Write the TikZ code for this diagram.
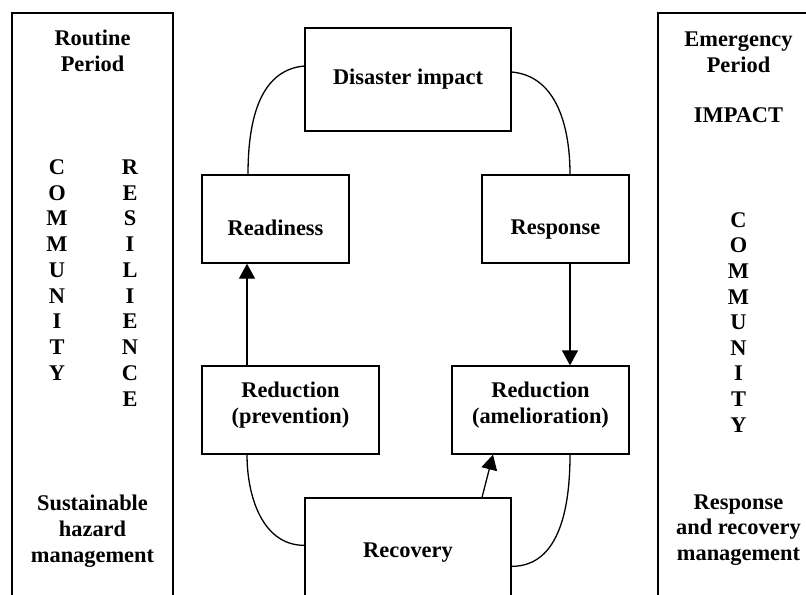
\documentclass[tikz,border=0pt]{standalone}
\usepackage{fontspec}
\setmainfont{Liberation Serif}
\usetikzlibrary{arrows.meta}

\tikzset{
  every node/.style={font=\fontsize{11.2}{12.9}\selectfont\bfseries},
  stage/.style={draw, line width=0.65pt, inner sep=0pt},
  flow/.style={line width=0.65pt, -{Triangle[length=7.5pt,width=8pt]}},
  link/.style={line width=0.65pt},
}

\begin{document}
\begin{tikzpicture}[x=0.5pt, y=-0.5pt]
  \useasboundingbox (0,0) rectangle (806,594);

  % side panels
  \draw[link] (12,13) rectangle (173,640);
  \draw[link] (658,13) rectangle (819,640);

  % routine period
  \node[align=center] (routine) at (92.5,51) {Routine\\Period};
  \foreach \ch [count=\i from 0] in {C,O,M,M,U,N,I,T,Y}
    \node (lcom\i) at (57,167+25.75*\i) {\ch};
  \foreach \ch [count=\i from 0] in {R,E,S,I,L,I,E,N,C,E}
    \node (lres\i) at (130,167+25.75*\i) {\ch};
  \node[align=center] (sustain) at (92.5,531) {Sustainable\\hazard\\management};

  % emergency period
  \node[align=center] (emerg) at (738.5,52) {Emergency\\Period};
  \node (impact) at (738.5,115) {IMPACT};
  \foreach \ch [count=\i from 0] in {C,O,M,M,U,N,I,T,Y}
    \node (rcom\i) at (738.5,220+25.6*\i) {\ch};
  \node[align=center] (respman) at (738.5,530) {Response\\and recovery\\management};

  % the cycle
  \node[stage, minimum width=103pt, minimum height=51.5pt] (disaster) at (408,79.5) {Disaster impact};
  \node[stage, minimum width=73.5pt, minimum height=44pt,
        label={[yshift=-4.25pt]center:Readiness}] (ready) at (275.5,219) {};
  \node[stage, minimum width=73.5pt, minimum height=44pt,
        label={[yshift=-5.5pt]center:Response}] (response) at (555.5,219) {};
  \node[stage, minimum width=88.5pt, minimum height=44pt,
        label={[align=center,yshift=2.25pt]center:{Reduction\\(prevention)}}] (prevent) at (290.5,410) {};
  \node[stage, minimum width=88.5pt, minimum height=44pt,
        label={[align=center,yshift=2.25pt]center:{Reduction\\(amelioration)}}] (ameliorate) at (540.5,410) {};
  \node[stage, minimum width=103pt, minimum height=70pt,
        label={[yshift=7.5pt]center:Recovery}] (recovery) at (408,568) {};

  % arrows
  \draw[flow] ([shift={(-43.5,0)}]prevent.north) -- ([shift={(-28.5,0)}]ready.south);
  \draw[flow] ([shift={(14.5,0)}]response.south) -- ([shift={(29.5,0)}]ameliorate.north);
  \draw[flow] ([shift={(74,0)}]recovery.north) -- ([shift={(-47.5,0)}]ameliorate.south);

  % curved links
  \draw[link] ([shift={(0,-13.5)}]disaster.west) to[out=185,in=90] ([shift={(-27.5,0)}]ready.north);
  \draw[link] ([shift={(0,-7.5)}]disaster.east) to[out=-5,in=90] ([shift={(14.5,0)}]response.north);
  \draw[link] ([shift={(-43.5,0)}]prevent.south) to[out=-90,in=180] ([shift={(0,48)}]recovery.north west);
  \draw[link] ([shift={(0,69)}]recovery.north east) to[out=0,in=-90] ([shift={(29.5,0)}]ameliorate.south);
\end{tikzpicture}
\end{document}
